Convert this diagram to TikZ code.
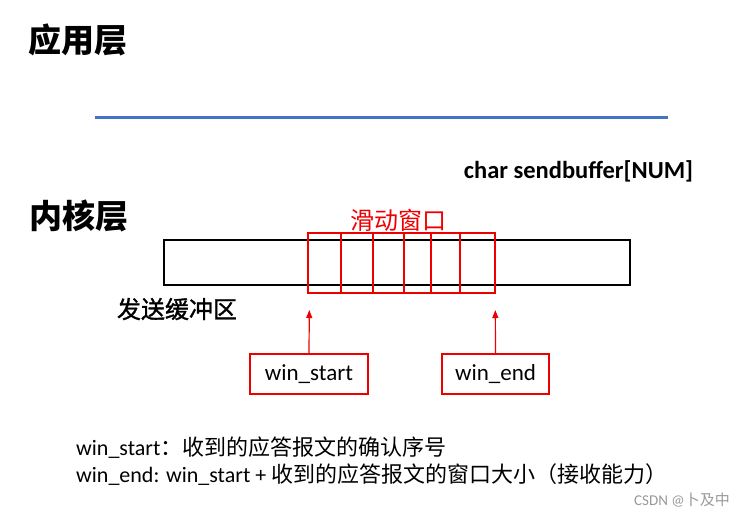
\documentclass[tikz,border=0pt]{standalone}
\usepackage{fontspec}
\setmainfont{Carlito}
\newfontfamily\cjk{Noto Sans CJK SC}
\newfontfamily\cjkm[FakeBold=1.2]{Noto Sans CJK SC}
\usetikzlibrary{arrows.meta}
\definecolor{blueline}{HTML}{4472C4}
\definecolor{winred}{HTML}{EE0000}
\tikzset{
  layer/.style={font=\cjk\bfseries\fontsize{33}{36}\selectfont, inner sep=0pt},
  ptrbox/.style={draw=winred, line width=1.2pt, minimum height=40pt, inner sep=0pt, font=\fontsize{23}{26}\selectfont},
  ptrarrow/.style={draw=winred, line width=1.2pt, -{Triangle[width=6pt,length=8pt]}},
  slot/.style={draw=winred, line width=2pt},
  desc/.style={anchor=west, inner sep=0pt, font=\fontsize{22}{26}\selectfont},
}
\begin{document}
\begin{tikzpicture}[x=1pt,y=-1pt]
\useasboundingbox (0,0) rectangle (744,515);
% layers
\node[layer] (app) at (78,40) {应用层};
\node[layer] (kern) at (79,216) {内核层};
\coordinate (bl) at (95,117);
\coordinate (br) at (668,117);
\draw[blueline, line width=3pt] (bl) -- (br);
\node[font=\bfseries\fontsize{24.5}{27}\selectfont, inner sep=0pt] (decl) at (578.5,171) {char sendbuffer[NUM]};
% buffer
\node[draw=black, line width=2pt, minimum width=466pt, minimum height=45pt, inner sep=0pt] (buf) at (397,262.5) {};
\node[font=\cjkm\fontsize{24}{26}\selectfont, inner sep=0pt] (buflabel) at (177,309) {发送缓冲区};
% sliding window
\node[draw=winred, line width=2pt, minimum width=187pt, minimum height=59.5pt, inner sep=0pt] (win) at (401.3,263) {};
\foreach \xx in {340.7,372.7,404,431,460} {
  \draw[slot] (\xx,233) -- (\xx,292.7);
}
\node[font=\cjk\fontsize{24}{26}\selectfont, text=winred, inner sep=0pt] (wintitle) at (398,220) {滑动窗口};
% pointers
\node[ptrbox, minimum width=118pt] (ws) at (309,374) {win\_start};
\node[ptrbox, minimum width=107pt] (we) at (495.5,374) {win\_end};
\coordinate (wstip) at (309.3,310);
\coordinate (wetip) at (495.3,310);
\draw[ptrarrow] (ws.north) -- (wstip);
\draw[ptrarrow] (we.north) -- (wetip);
% description
\node[desc] (d1) at (76,448) {win\_start{\cjk ：收到的应答报文的确认序号}};
\node[desc] (d2) at (76,475) {win\_end: win\_start + {\cjk 收到的应答报文的窗口大小（接收能力）}};
\node[anchor=east, inner sep=0pt, text=black!40, font=\fontsize{15}{17}\selectfont] (wm) at (730,500) {CSDN @{\cjk 卜及中}};
\end{tikzpicture}
\end{document}
